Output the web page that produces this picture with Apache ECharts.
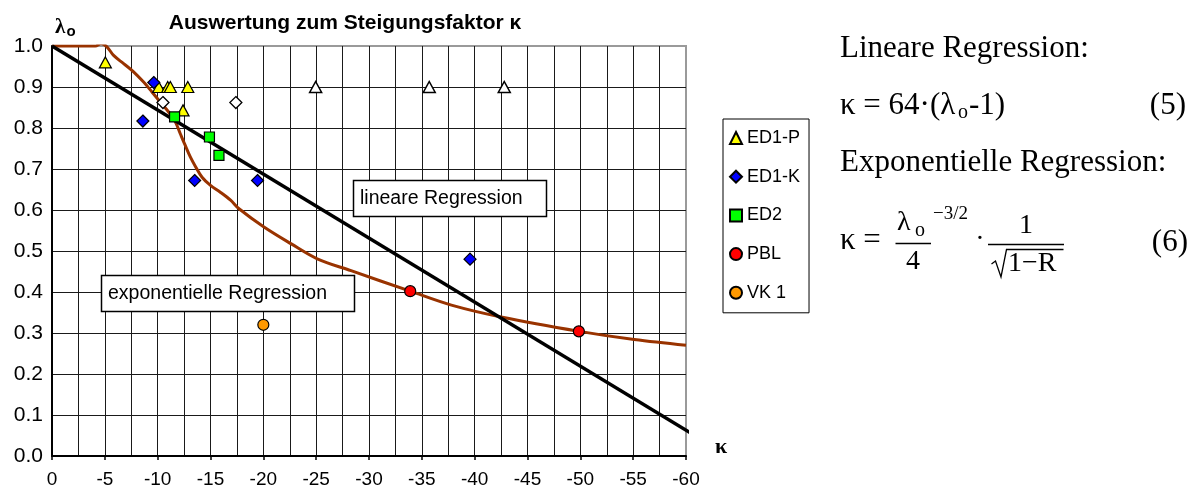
<!DOCTYPE html>
<html>
<head>
<meta charset="utf-8">
<script src="https://cdn.jsdelivr.net/npm/echarts@6/dist/echarts.min.js"></script>
<style>
  html, body { margin: 0; padding: 0; background: #fff; }
  #chart { width: 1196px; height: 493px; }
</style>
</head>
<body>
<div id="chart"></div>
<script>
// Measured points (kappa = slope factor, lambda_o)
const ed1pKappa  = [-5.05, -10.1, -10.95, -11.2, -12.85, -12.4];
const ed1pLambda = [0.96, 0.9, 0.9, 0.9, 0.9, 0.843];
const ed1kKappa  = [-9.63, -8.6, -13.5, -19.45, -39.56];
const ed1kLambda = [0.911, 0.817, 0.672, 0.672, 0.48];
const ed2Kappa   = [-11.6, -14.9, -15.8];
const ed2Lambda  = [0.827, 0.778, 0.733];
const pblKappa   = [-33.9, -49.86];
const pblLambda  = [0.402, 0.304];
const vk1Kappa   = [-20.0];
const vk1Lambda  = [0.32];
// Points shown without fill (not part of the legend)
const openTriKappa  = [-24.95, -35.7, -42.8];
const openTriLambda = [0.9, 0.9, 0.9];
const openDiaKappa  = [-10.5, -17.4];
const openDiaLambda = [0.862, 0.862];
// Regression lines
const linKappa  = [0, -60.7];
const linLambda = [1.0, 0.052];
const expKappa  = [0, -2, -4.1, -4.64, -5.2, -5.83, -6.78, -7.72, -8.67, -9.46, -10.25, -11.04, -11.67,
                   -12.14, -12.6, -13.1, -13.6, -14.2, -15.0, -15.9, -16.9, -17.7, -20.06, -22.6, -25.1,
                   -28.3, -33.9, -37.8, -42.5, -49.9, -55.1, -60];
const expLambda = [1.0, 1.0, 1.0, 1.006, 0.998, 0.977, 0.957, 0.937, 0.912, 0.888, 0.863, 0.839, 0.815,
                   0.786, 0.758, 0.729, 0.705, 0.68, 0.66, 0.644, 0.624, 0.603, 0.5585, 0.518, 0.481,
                   0.452, 0.402, 0.368, 0.339, 0.304, 0.284, 0.27];
// Axis ticks
const xMin = -60, xMax = 0, xStep = 5;
const yMin = 0, yMax = 1, yStep = 0.1;
const legendNames = ['ED1-P', 'ED1-K', 'ED2', 'PBL', 'VK 1'];

const zip = (a, b) => a.map((v, i) => [v, b[i]]);
const SANS = '"Liberation Sans", Arial, sans-serif';
const SERIF = '"Liberation Serif", "Times New Roman", serif';

function scatter(name, kx, ly, symbol, size, fill, bw) {
  return {
    name, type: 'scatter', data: zip(kx, ly), symbol, symbolSize: size, z: 5,
    itemStyle: { color: fill, borderColor: '#000', borderWidth: bw || 1.2, opacity: 1 }
  };
}

function txt(text, x, y, font, align, extra) {
  return Object.assign({
    type: 'text', z: 100, silent: true,
    style: { text, x, y, font, fill: '#000', align: align || 'left', verticalAlign: 'middle' }
  }, extra || {});
}

const chart = echarts.init(document.getElementById('chart'), null, { renderer: 'canvas' });
chart.setOption({
  animation: false,
  backgroundColor: '#fff',
  grid: { left: 52, top: 46, width: 634, height: 410, show: true, borderColor: '#9a9a9a', borderWidth: 2, backgroundColor: '#fff' },
  xAxis: {
    type: 'value', min: xMin, max: xMax, interval: xStep, inverse: true,
    axisLine: { show: true, onZero: false, lineStyle: { color: '#000', width: 2 } },
    axisTick: { show: true, length: 4, lineStyle: { color: '#000', width: 1.5 } },
    axisLabel: { color: '#000', fontFamily: SANS, fontSize: 19, margin: 14 },
    splitLine: { show: true, showMinLine: false, lineStyle: { color: '#1a1a1a', width: 1 } },
    minorTick: { show: false, splitNumber: 2 },
    minorSplitLine: { show: true, lineStyle: { color: '#1a1a1a', width: 1 } }
  },
  yAxis: {
    type: 'value', min: yMin, max: yMax, interval: yStep,
    axisLine: { show: true, onZero: false, lineStyle: { color: '#000', width: 2 } },
    axisTick: { show: false },
    axisLabel: { color: '#000', fontFamily: SANS, fontSize: 21, margin: 9, formatter: v => v.toFixed(1) },
    splitLine: { show: true, showMaxLine: false, lineStyle: { color: '#1a1a1a', width: 1 } }
  },
  legend: {
    data: legendNames, orient: 'vertical', left: 723, top: 119,
    padding: [10, 9, 11, 6], itemWidth: 12, itemHeight: 12, itemGap: 20.7,
    borderColor: '#000', borderWidth: 1, backgroundColor: '#fff',
    textStyle: { color: '#000', fontFamily: SANS, fontSize: 18, lineHeight: 14 }
  },
  series: [
    { name: 'Exponentielle Regression', type: 'line', data: zip(expKappa, expLambda), showSymbol: false,
      smooth: 0.35, z: 2, silent: true, lineStyle: { color: '#993300', width: 3 } },
    { name: 'Lineare Regression', type: 'line', data: zip(linKappa, linLambda), showSymbol: false,
      clip: false, z: 3, silent: true, lineStyle: { color: '#000', width: 3.5 } },
    scatter('ED1-P offen', openTriKappa, openTriLambda, 'triangle', [12, 11], '#fff', 1.5),
    scatter('ED1-K offen', openDiaKappa, openDiaLambda, 'diamond', [12, 12], '#fff', 1.3),
    scatter('ED1-P', ed1pKappa, ed1pLambda, 'triangle', [12, 11], '#ffff00'),
    scatter('ED1-K', ed1kKappa, ed1kLambda, 'diamond', [12, 12], '#0000ff'),
    scatter('ED2', ed2Kappa, ed2Lambda, 'rect', 10, '#00ff00'),
    scatter('PBL', pblKappa, pblLambda, 'circle', 11, '#ff0000'),
    scatter('VK 1', vk1Kappa, vk1Lambda, 'circle', 11, '#ff9900')
  ],
  graphic: [
    // chart title and axis names
    txt('Auswertung zum Steigungsfaktor κ', 345, 23, 'bold 21px ' + SANS, 'center'),
    txt('λ', 55, 28, 'bold 21px ' + SERIF),
    txt('o', 66.5, 32, 'bold 15px ' + SANS),
    txt('κ', 715, 447, 'bold 22px ' + SERIF),
    // labelled boxes inside the plot
    { type: 'rect', z: 90, silent: true, shape: { x: 353.5, y: 180.5, width: 193, height: 36 },
      style: { fill: '#fff', stroke: '#000', lineWidth: 1.5 } },
    txt('lineare Regression', 360, 198.5, '19.5px ' + SANS),
    { type: 'rect', z: 90, silent: true, shape: { x: 101.5, y: 275.5, width: 253, height: 36 },
      style: { fill: '#fff', stroke: '#000', lineWidth: 1.5 } },
    txt('exponentielle Regression', 108, 293.5, '19.5px ' + SANS),
    // equations (5) and (6)
    txt('Lineare Regression:', 840, 49, '31px ' + SERIF),
    txt('κ = 64·(λ', 840, 105.5, '31px ' + SERIF),
    txt('o', 958, 113, '20px ' + SERIF),
    txt('-1)', 969, 105.5, '31px ' + SERIF),
    txt('(5)', 1186, 105.5, '31px ' + SERIF, 'right'),
    txt('Exponentielle Regression:', 840, 162.5, '31px ' + SERIF),
    txt('κ =', 840, 241, '31px ' + SERIF),
    txt('λ', 897, 223, '28px ' + SERIF),
    txt('o', 915, 231, '20px ' + SERIF),
    { type: 'line', z: 100, silent: true, shape: { x1: 895.5, y1: 243.5, x2: 931, y2: 243.5 }, style: { stroke: '#000', lineWidth: 1.5 } },
    txt('4', 913, 262, '28px ' + SERIF, 'center'),
    txt('−3/2', 933, 214, '19px ' + SERIF),
    txt('·', 980, 240, '28px ' + SERIF, 'center'),
    txt('1', 1026, 226, '28px ' + SERIF, 'center'),
    { type: 'line', z: 100, silent: true, shape: { x1: 988, y1: 244.5, x2: 1064, y2: 244.5 }, style: { stroke: '#000', lineWidth: 1.5 } },
    { type: 'polyline', z: 100, silent: true,
      shape: { points: [[991.5, 264], [995.5, 261], [1001, 277], [1006.5, 249.5], [1063.5, 249.5]] },
      style: { stroke: '#000', lineWidth: 1.3, fill: null } },
    txt('1−R', 1008, 264, '28px ' + SERIF),
    txt('(6)', 1188, 242.5, '31px ' + SERIF, 'right')
  ]
});
</script>
</body>
</html>
